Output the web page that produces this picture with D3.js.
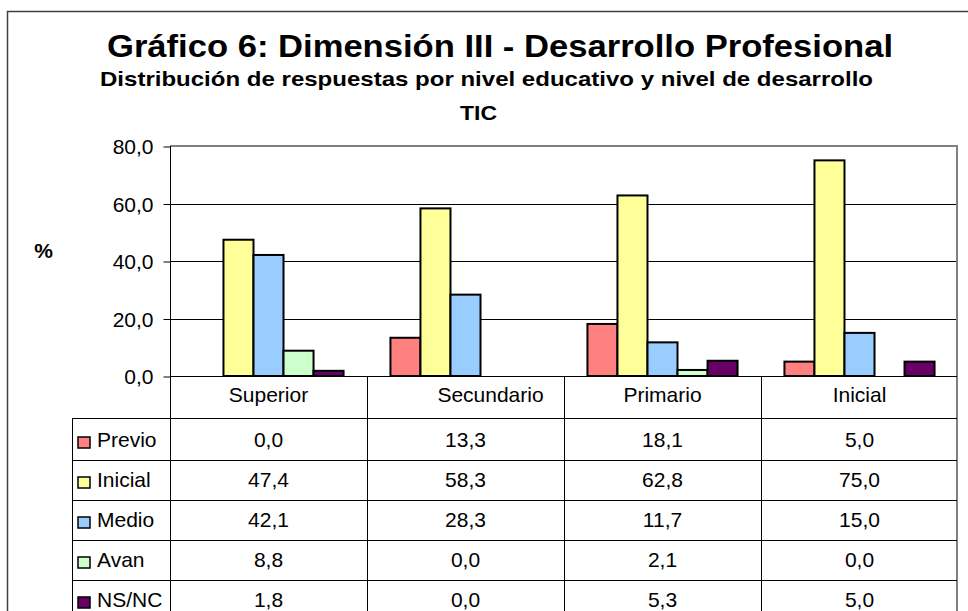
<!DOCTYPE html>
<html><head><meta charset="utf-8">
<script src="https://cdn.jsdelivr.net/npm/d3@7"></script>
<style>
html,body{margin:0;padding:0;background:#fff;}
svg{display:block;font-family:"Liberation Sans",Arial,sans-serif;}
</style></head>
<body>
<svg id="chart" width="968" height="611"></svg>
<script>
// ---- data ----
const categories = ["Superior", "Secundario", "Primario", "Inicial"];
const seriesNames = ["Previo", "Inicial", "Medio", "Avan", "NS/NC"];
const seriesColors = ["#FF8080", "#FFFF99", "#99CCFF", "#CCFFCC", "#660066"];
const previo  = [0.0, 13.3, 18.1, 5.0];
const inicial = [47.4, 58.3, 62.8, 75.0];
const medio   = [42.1, 28.3, 11.7, 15.0];
const avan    = [8.8, 0.0, 2.1, 0.0];
const nsnc    = [1.8, 0.0, 5.3, 5.0];
const yTicks = [0, 20, 40, 60, 80];
const title = "Gráfico 6: Dimensión III - Desarrollo Profesional";
const subtitle1 = "Distribución de respuestas por nivel educativo y nivel de desarrollo";
const subtitle2 = "TIC";

const seriesValues = [previo, inicial, medio, avan, nsnc];
const fmt = v => d3.format(".1f")(v).replace(".", ",");

// ---- layout ----
const svg = d3.select("#chart");
const L = 170, R = 958, T = 146, B = 376;
const tableTop = 418, rowH = 40, rowStart = 420;
const legendLeft = 72;
const bottomEdge = 640;

const x0 = d3.scaleBand().domain(categories).range([L, R]).padding(0);
const bw = x0.bandwidth();
const groupW = bw * 0.762;
const x1 = d3.scaleBand().domain(seriesNames).range([(bw - groupW) / 2, (bw + groupW) / 2]).padding(0);
const y = d3.scaleLinear().domain([0, 80]).range([B, T]);
const rowY = d3.scaleBand().domain(seriesNames).range([rowStart, rowStart + rowH * seriesNames.length]);

// outer frame
svg.append("rect").attr("x", 7.5).attr("y", 11.5).attr("width", 980).attr("height", 640)
  .attr("fill", "none").attr("stroke", "#404040").attr("stroke-width", 1.5);

// titles
svg.append("text").attr("x", 107).attr("y", 57).attr("font-size", 32).attr("font-weight", "bold")
  .attr("textLength", 786).attr("lengthAdjust", "spacingAndGlyphs").text(title);
svg.append("text").attr("x", 100).attr("y", 86).attr("font-size", 21).attr("font-weight", "bold")
  .attr("textLength", 773).attr("lengthAdjust", "spacingAndGlyphs").text(subtitle1);
svg.append("text").attr("x", 460).attr("y", 120).attr("font-size", 21).attr("font-weight", "bold")
  .attr("textLength", 37).attr("lengthAdjust", "spacingAndGlyphs").text(subtitle2);

// % label
svg.append("text").attr("x", 43.5).attr("y", 258).attr("text-anchor", "middle")
  .attr("font-size", 21).attr("font-weight", "bold").text("%");

// gridlines
svg.append("g").selectAll("line").data(yTicks.filter(t => t > 0 && t < 80)).join("line")
  .attr("x1", L).attr("x2", R).attr("y1", d => Math.round(y(d)) + 0.5).attr("y2", d => Math.round(y(d)) + 0.5)
  .attr("stroke", "#000").attr("stroke-width", 1);

// y axis
const yAxis = d3.axisLeft(y).tickValues(yTicks).tickSize(7).tickPadding(10).tickFormat(fmt);
const gy = svg.append("g").attr("transform", `translate(${L + 0.5},0.5)`).call(yAxis);
gy.select(".domain").remove();
gy.selectAll(".tick line").attr("stroke", "#000");
gy.selectAll(".tick text").attr("font-size", 21).attr("font-family", "Liberation Sans, Arial, sans-serif")
  .attr("fill", "#000").attr("dy", "0.35em");

// bars
const groups = svg.append("g").selectAll("g").data(categories).join("g")
  .attr("transform", d => `translate(${x0(d)},0)`);
groups.selectAll("rect").data((c, ci) => seriesNames.map((s, si) => ({s, si, v: seriesValues[si][ci]})).filter(d => d.v > 0))
  .join("rect")
  .attr("x", d => x1(d.s)).attr("width", x1.bandwidth())
  .attr("y", d => y(d.v)).attr("height", d => y(0) - y(d.v))
  .attr("fill", d => seriesColors[d.si]).attr("stroke", "#000").attr("stroke-width", 2);

// plot frame (top & right gray)
svg.append("line").attr("x1", L).attr("x2", R - 1).attr("y1", T).attr("y2", T).attr("stroke", "#808080").attr("stroke-width", 2);
svg.append("line").attr("x1", R - 1).attr("x2", R - 1).attr("y1", T - 1).attr("y2", bottomEdge).attr("stroke", "#808080").attr("stroke-width", 2);

// left axis line and bottom axis line
svg.append("line").attr("x1", L + 0.5).attr("x2", L + 0.5).attr("y1", T).attr("y2", bottomEdge).attr("stroke", "#000");
svg.append("line").attr("x1", L).attr("x2", R - 1).attr("y1", B + 0.5).attr("y2", B + 0.5).attr("stroke", "#000");

// table: category dividers
svg.append("g").selectAll("line").data(categories.slice(1)).join("line")
  .attr("x1", d => Math.round(x0(d)) + 0.5).attr("x2", d => Math.round(x0(d)) + 0.5)
  .attr("y1", B).attr("y2", bottomEdge).attr("stroke", "#000");

// category header labels
const labelShift = {"Secundario": 25};
svg.append("g").selectAll("text").data(categories).join("text")
  .attr("x", d => x0(d) + bw / 2 + (labelShift[d] || 0)).attr("y", 402)
  .attr("text-anchor", "middle").attr("font-size", 21).text(d => d);

// row lines
const rowLines = [tableTop].concat(seriesNames.slice(1).map(s => rowY(s)));
svg.append("g").selectAll("line").data(rowLines).join("line")
  .attr("x1", legendLeft).attr("x2", R - 1).attr("y1", d => d + 0.5).attr("y2", d => d + 0.5)
  .attr("stroke", "#000");
// legend column left line
svg.append("line").attr("x1", legendLeft + 0.5).attr("x2", legendLeft + 0.5)
  .attr("y1", tableTop).attr("y2", bottomEdge).attr("stroke", "#000");

// legend keys & labels
const rows = svg.append("g").selectAll("g").data(seriesNames).join("g")
  .attr("transform", d => `translate(0,${rowY(d)})`);
rows.append("rect").attr("x", 78).attr("y", 17).attr("width", 12).attr("height", 11)
  .attr("fill", (d, i) => seriesColors[i]).attr("stroke", "#000").attr("stroke-width", 1.5);
rows.append("text").attr("x", 97).attr("y", 27).attr("font-size", 21).text(d => d);

// values
rows.each(function(s, si) {
  d3.select(this).selectAll("text.val").data(categories).join("text").attr("class", "val")
    .attr("x", c => x0(c) + bw / 2).attr("y", 27).attr("text-anchor", "middle")
    .attr("font-size", 21).text((c, ci) => fmt(seriesValues[si][ci]));
});
</script>
</body></html>
